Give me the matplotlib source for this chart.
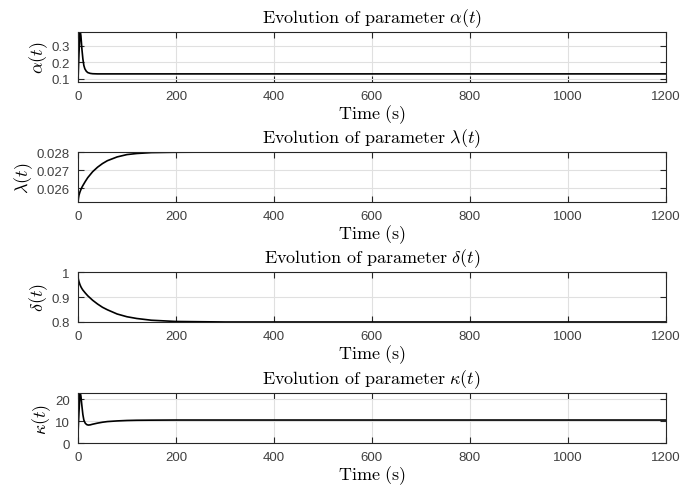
import matplotlib
matplotlib.use("Agg")
import matplotlib.pyplot as plt
from matplotlib.ticker import FormatStrFormatter

plt.rcParams["mathtext.fontset"] = "cm"
plt.rcParams["font.family"] = ["Liberation Sans", "DejaVu Sans"]

# parameter trajectories (time in s)
t_alpha = [0, 2, 4, 5, 6, 8, 10, 12, 14, 17, 20, 25, 30, 40, 1200]
alpha = [0.08, 0.25, 0.37, 0.38, 0.36, 0.28, 0.22, 0.18, 0.16, 0.145, 0.137,
         0.132, 0.13, 0.129, 0.129]

t_lam = [0, 1, 2, 4, 6, 8, 10, 15, 20, 30, 40, 50, 60, 80, 100, 120, 150,
         200, 300, 1200]
lam = [0.02520, 0.02545, 0.02560, 0.02578, 0.02592, 0.02604, 0.02614,
       0.02637, 0.02658, 0.02691, 0.02716, 0.02736, 0.02752, 0.02773,
       0.02786, 0.02792, 0.02797, 0.02799, 0.02800, 0.02800]

t_delta = [0, 1, 2, 4, 6, 8, 10, 15, 20, 30, 40, 50, 60, 80, 100, 120, 150,
           200, 300, 1200]
delta = [0.980, 0.970, 0.962, 0.950, 0.941, 0.934, 0.928, 0.916, 0.905,
         0.887, 0.872, 0.859, 0.849, 0.832, 0.821, 0.814, 0.807, 0.802,
         0.800, 0.800]

t_kappa = [0, 2, 4, 5, 6, 8, 10, 12, 15, 18, 21, 25, 30, 40, 50, 60, 80,
           100, 120, 150, 200, 1200]
kappa = [4, 14, 22, 22.5, 21.5, 17, 13, 10.5, 9, 8.4, 8.2, 8.3, 8.6, 9.1,
         9.5, 9.8, 10.1, 10.3, 10.4, 10.45, 10.5, 10.5]

panels = [
    (t_alpha, alpha, r"\alpha", (0.08, 0.382), [0.1, 0.2, 0.3], "%g"),
    (t_lam, lam, r"\lambda", (0.02523, 0.028), [0.026, 0.027, 0.028], "%.3f"),
    (t_delta, delta, r"\delta", (0.8, 1.0), [0.8, 0.9, 1.0], "%g"),
    (t_kappa, kappa, r"\kappa", (0, 22.8), [0, 10, 20], "%g"),
]
xticks = [0, 200, 400, 600, 800, 1000, 1200]

fig = plt.figure(figsize=(6.81, 4.89), dpi=100)
bottoms = [0.8303, 0.585, 0.3395, 0.092]
h = 0.102
grey = "#262626"

for (t, y, sym, ylim, yt, fmt), b in zip(panels, bottoms):
    ax = fig.add_axes([0.1145, b, 0.863, h])
    ax.plot(t, y, color="black", lw=1.2)
    ax.set_xlim(0, 1200)
    ax.set_ylim(*ylim)
    ax.set_xticks(xticks)
    ax.set_yticks(yt)
    ax.yaxis.set_major_formatter(FormatStrFormatter(fmt))
    ax.grid(True, color="#e0e0e0", lw=0.8)
    ax.set_axisbelow(True)
    ax.tick_params(direction="in", top=True, right=True, length=4,
                   labelsize=9.5, colors=grey, labelcolor="#404040",
                   width=0.8, pad=6)
    for s in ax.spines.values():
        s.set_color(grey)
        s.set_linewidth(0.8)
    ax.set_title(r"$\mathrm{Evolution\ of\ parameter}\ %s(t)$" % sym,
                 fontsize=13, pad=7)
    ax.set_xlabel(r"$\mathrm{Time\ (s)}$", fontsize=13, labelpad=0)
    ax.set_ylabel(r"$%s(t)$" % sym, fontsize=13, labelpad=1)

fig.savefig("out.png", dpi=100)
